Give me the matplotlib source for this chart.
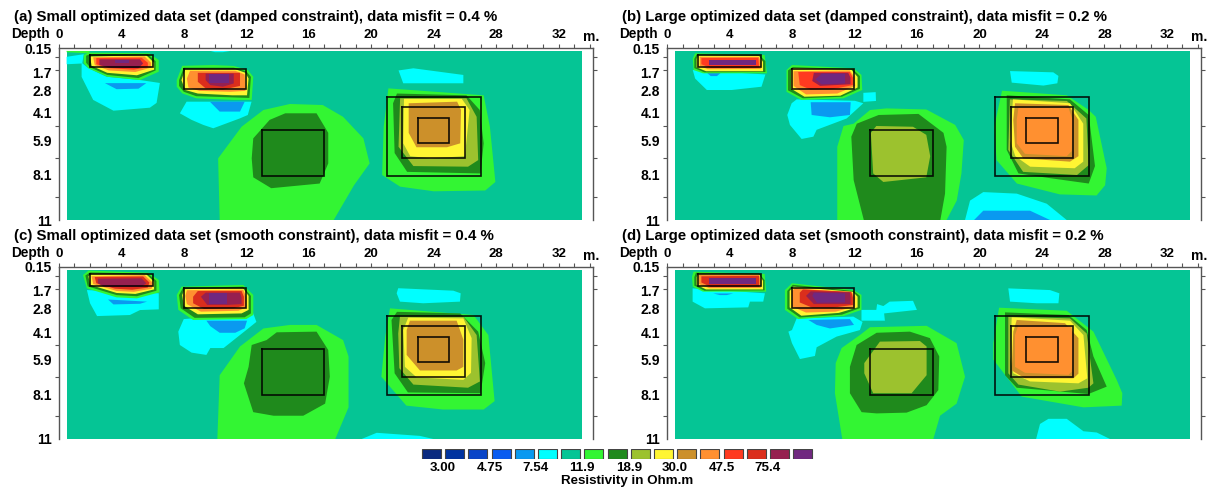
import numpy as np
import matplotlib
matplotlib.use("Agg")
import matplotlib.pyplot as plt

plt.rcParams['font.family'] = ['Liberation Sans', 'DejaVu Sans']

# resistivity classes of the colour scale
COLORS = ['#0A2A80', '#0033A0', '#0A45C8', '#0A5CF0', '#0A99F0', '#00FFFF',
          '#05C595', '#33F533', '#1F8A1C', '#9CC22E', '#FFF533', '#CC902A',
          '#FF9030', '#FF3A20', '#DB2E1C', '#962050', '#702880']
SCALE_LABELS = ['3.00', '4.75', '7.54', '11.9', '18.9', '30.0', '47.5', '75.4']
SKY, CYAN, TEAL, LIME, DARK, OLIVE, YELLOW, TAN, ORANGE, REDOR, RED, MAROON, PURPLE = range(4, 17)

X_LABELS = list(range(0, 33, 4))
DEPTH_LABELS = [0.15, 1.7, 2.8, 4.1, 5.9, 8.1, 11]
DEPTH_PIXELS = [0, 24, 42, 65, 92.5, 127, 172]
LAYER_TICKS = [0.15, 0.75, 1.55, 2.8, 4.1, 4.95, 5.9, 7, 8.1, 9.5, 11]

# true model blocks: x from, x to, depth from, depth to
BLOCKS = [(2, 6, 0.6, 1.4), (8, 12, 1.5, 2.72), (13, 17, 5.2, 8.15),
          (21, 27, 3.2, 8.15), (22, 26, 3.78, 7.0), (23, 25, 4.45, 6.05)]

TITLES = ['(a) Small optimized data set (damped constraint), data misfit = 0.4 %',
          '(b) Large optimized data set (damped constraint), data misfit = 0.2 %',
          '(c) Small optimized data set (smooth constraint), data misfit = 0.4 %',
          '(d) Large optimized data set (smooth constraint), data misfit = 0.2 %']

PANEL_A = [
    (CYAN, [(0.5, .72), (1.6, .55), (1.5, 1.15), (0.5, 1.2)]),
    (CYAN, [(1.46, 1.1), (1.46, 2.0), (2.2, 3.36), (3.5, 3.97), (5.83, 3.8), (6.26, 3.53), (6.47, 2.37), (5.2, 2.19), (3.06, 1.99), (1.9, 1.46)]),
    (SKY, [(2.95, 2.38), (5.6, 2.38), (5.1, 2.72), (3.7, 2.75)]),
    (CYAN, [(7.75, 4.12), (8.18, 3.46), (12.34, 3.46), (12.1, 4.23), (11.6, 4.45), (9.89, 5.1), (9.25, 4.88), (8.5, 4.55)]),
    (SKY, [(9.67, 3.46), (11.9, 3.46), (11.6, 4.02), (10.3, 4.02)]),
    (CYAN, [(9.7, .34), (11, .34), (10.5, .42), (10, .42)]),
    (LIME, [(0.5, .34), (2, .34), (1.9, .5), (0.5, .42)]),
    (LIME, [(1.6, .6), (1.9, .45), (5.8, .49), (6.4, .93), (6.4, 1.68), (5.2, 2.19), (3.1, 1.99), (1.9, 1.46), (1.6, 1.14)]),
    (DARK, [(1.75, .65), (2, .55), (5.7, .56), (6.2, 1), (6.2, 1.6), (5.1, 2.07), (3.1, 1.88), (2, 1.4), (1.75, 1.1)]),
    (YELLOW, [(2, .7), (5.6, .62), (6.1, 1.1), (6.1, 1.55), (5, 1.9), (3.1, 1.75), (2.1, 1.3)]),
    (ORANGE, [(2.2, .75), (5.5, .7), (5.9, 1.1), (5.9, 1.42), (4.9, 1.7), (3.2, 1.6), (2.3, 1.25)]),
    (REDOR, [(2.4, .8), (5.3, .78), (5.7, 1.1), (5.7, 1.38), (4.8, 1.55), (3.2, 1.45), (2.4, 1.2)]),
    (MAROON, [(2.6, .88), (5.2, .88), (5.4, 1.15), (5.1, 1.45), (3.3, 1.42), (2.6, 1.25)]),
    (PURPLE, [(3.6, .95), (4.5, .95), (4.5, 1.15), (3.6, 1.15)]),
    (LIME, [(7.55, 2.19), (7.9, 1.3), (9.9, 1.25), (11.2, 1.31), (12.1, 1.57), (12.45, 1.99), (12.35, 3.36), (11.2, 3.36), (8.8, 3.27), (7.9, 2.99), (7.55, 2.6)]),
    (DARK, [(7.7, 2.2), (8, 1.42), (11.2, 1.42), (12, 1.65), (12.3, 2), (12.2, 3.25), (11.2, 3.22), (8.8, 3.15), (8, 2.9), (7.7, 2.55)]),
    (YELLOW, [(7.85, 2.2), (8.1, 1.52), (11.3, 1.52), (11.95, 1.75), (12.15, 2.1), (12.05, 3.1), (11.1, 3.1), (8.9, 3.0), (8.1, 2.8)]),
    (ORANGE, [(8.2, 2.1), (8.4, 1.62), (11.3, 1.62), (11.9, 1.85), (11.95, 2.85), (11, 2.9), (9, 2.85), (8.3, 2.65)]),
    (RED, [(8.9, 1.75), (11.6, 1.75), (11.6, 2.55), (10.5, 2.78), (9.4, 2.7), (8.9, 2.3)]),
    (MAROON, [(9.4, 1.8), (11.2, 1.8), (11.2, 2.4), (10.5, 2.6), (9.7, 2.5), (9.4, 2.2)]),
    (PURPLE, [(9.6, 1.85), (10.9, 1.85), (10.9, 2.35), (9.6, 2.35)]),
    (LIME, [(10.3, 11), (10.2, 7.04), (11.7, 5), (13.1, 3.93), (14.8, 3.59), (16.9, 3.65), (18.2, 4.35), (19.5, 5.76), (19.9, 7.36), (18.9, 8.76), (17.6, 11)]),
    (DARK, [(12.35, 7.04), (12.45, 5.76), (13.5, 4.55), (14.5, 4.12), (16.5, 4.12), (17.25, 5.4), (17.25, 7.36), (16.7, 8.65), (13.6, 8.95), (12.45, 8.25)]),
    (CYAN, [(21.75, 1.6), (22.7, 1.46), (25.9, 1.88), (25.9, 2.39), (22.05, 2.39)]),
    (LIME, [(21.1, 2.7), (27.2, 3.1), (27.6, 5), (27.95, 8.55), (27.3, 9.1), (24, 9.15), (21.85, 8.85), (20.7, 8.1), (20.8, 5)]),
    (DARK, [(21.65, 3), (26.1, 3.1), (26.95, 3.93), (27.2, 6.08), (27, 8), (22.3, 7.9), (21.5, 6.7), (21.4, 3.55)]),
    (OLIVE, [(21.85, 3.27), (26.1, 3.27), (26.75, 4.35), (26.85, 7.15), (26.2, 7.57), (22.7, 7.53), (21.75, 6.3)]),
    (YELLOW, [(22.1, 3.3), (25.8, 3.3), (26.3, 3.93), (26, 6.9), (23.8, 7.04), (22.5, 6.9), (22.05, 6.08)]),
    (TAN, [(22.4, 3.55), (25.5, 3.46), (25.75, 3.93), (25.7, 6.08), (24.85, 6.33), (22.9, 6.33), (22.4, 5.4)]),
]

PANEL_B = [
    (CYAN, [(1.65, 1.57), (6.3, 1.85), (6.05, 2.6), (4.15, 2.8), (2.55, 2.8), (1.8, 2.1)]),
    (SKY, [(2.5, 1.7), (3.5, 1.7), (3.2, 1.95), (2.8, 1.95)]),
    (LIME, [(1.65, .82), (1.8, .49), (6.25, .6), (6.4, 1.78), (2.3, 1.78), (1.7, 1.57)]),
    (DARK, [(1.75, .85), (1.9, .56), (5.9, .6), (6.3, 1.0), (6.3, 1.7), (2.4, 1.72), (1.75, 1.45)]),
    (YELLOW, [(1.9, .85), (2, .62), (5.9, .66), (6.15, 1.05), (6.15, 1.65), (2.5, 1.65), (1.9, 1.4)]),
    (ORANGE, [(2.1, .85), (2.1, .72), (5.9, .72), (6, 1.1), (6, 1.5), (2.6, 1.52), (2.1, 1.3)]),
    (REDOR, [(2.2, .8), (5.85, .78), (5.9, 1.42), (2.8, 1.44), (2.2, 1.2)]),
    (PURPLE, [(2.7, .9), (5.7, .9), (5.7, 1.25), (2.7, 1.25)]),
    (CYAN, [(8.3, 3.33), (12.03, 3.41), (12.57, 3.55), (11.5, 4.46), (9.58, 5.2), (9.37, 5.65), (8.62, 5.8), (7.87, 4.88), (7.7, 4.23), (7.98, 3.55)]),
    (CYAN, [(12.57, 2.96), (13.36, 2.92), (13.38, 3.42), (12.57, 3.47)]),
    (SKY, [(9.2, 3.49), (11.76, 3.49), (11.71, 4.23), (10.43, 4.38), (9.26, 4.23)]),
    (LIME, [(7.65, 1.57), (8, 1.25), (11.95, 1.46), (12.45, 1.88), (12.5, 2.8), (11.3, 3.27), (8.6, 3.36), (7.65, 2.9)]),
    (DARK, [(7.75, 1.6), (8.05, 1.38), (11.9, 1.52), (12.35, 1.95), (12.35, 2.72), (11.2, 3.18), (8.7, 3.27), (7.75, 2.82)]),
    (YELLOW, [(7.95, 1.6), (8.1, 1.45), (11.8, 1.55), (12.2, 2), (12.2, 2.65), (11.1, 3.12), (8.8, 3.18), (7.95, 2.72)]),
    (ORANGE, [(8.1, 1.65), (11.7, 1.6), (12, 2), (12.05, 2.55), (10.9, 3.0), (8.9, 3.05), (8.1, 2.55)]),
    (REDOR, [(8.4, 1.7), (11.7, 1.7), (11.9, 2.05), (11.9, 2.5), (10.6, 2.75), (9.2, 2.78), (8.5, 2.5)]),
    (MAROON, [(9.4, 1.75), (11.6, 1.75), (11.75, 2.05), (11.75, 2.45), (9.8, 2.55), (9.3, 2.25)]),
    (PURPLE, [(9.9, 1.8), (11.4, 1.8), (11.4, 2.4), (9.9, 2.45), (9.5, 2.15)]),
    (LIME, [(10.9, 11), (10.9, 6.3), (11.3, 4.95), (11.95, 4.8), (13, 3.93), (14.05, 3.84), (16.6, 3.9), (18.45, 4.88), (19, 5.87), (18.85, 8), (18.55, 9.75), (17.9, 11)]),
    (DARK, [(12.6, 11), (11.95, 8.43), (11.8, 5.65), (12.15, 4.8), (13.55, 4.23), (16.1, 4.16), (17.7, 5.4), (17.9, 6.3), (17.8, 9.3), (17.5, 11)]),
    (OLIVE, [(13.4, 4.95), (15.75, 5), (16.6, 5.53), (16.85, 6.9), (16.6, 8.25), (13.85, 8.55), (13.2, 8), (13.05, 5.4)]),
    (CYAN, [(21.96, 1.64), (24.73, 1.72), (25.06, 1.94), (24.99, 2.39), (24.1, 2.53), (22.07, 2.35)]),
    (LIME, [(21.45, 2.84), (25.6, 3.1), (27, 3.93), (27.45, 4.35), (28.15, 7.67), (28.05, 8.76), (27.5, 9.42), (25.15, 9.35), (22.4, 8.65), (21.1, 7.15), (20.95, 5)]),
    (DARK, [(21.75, 3.1), (25.8, 3.33), (27, 4.23), (27.4, 7.53), (27, 8.65), (24.5, 8.3), (22.5, 8), (21.75, 6.5)]),
    (OLIVE, [(21.95, 3.33), (25.6, 3.42), (26.85, 4.46), (27, 7.47), (26.25, 8.1), (22.8, 7.9), (21.85, 6.5)]),
    (YELLOW, [(22.15, 3.33), (25.8, 3.55), (26.65, 4.8), (26.65, 7.25), (26.1, 7.67), (23.25, 7.57), (22.3, 6.9), (21.95, 5.87)]),
    (TAN, [(22.28, 3.55), (25.7, 3.65), (26.34, 4.55), (26.34, 6.9), (25.8, 7.25), (22.81, 7.04), (22.28, 6.3), (22.17, 4.55)]),
    (ORANGE, [(22.5, 3.8), (25.7, 3.8), (25.97, 4.55), (25.91, 6.58), (25.59, 6.9), (22.92, 6.75), (22.39, 6.08), (22.39, 4.55)]),
    (CYAN, [(19.08, 11), (19.4, 9.75), (20.25, 9.2), (22.39, 9.3), (24.31, 9.95), (25.59, 11)]),
    (SKY, [(19.66, 11), (20.25, 10.4), (23.24, 10.4), (24.52, 11)]),
]

PANEL_C = [
    (CYAN, [(1.8, 1.64), (6.4, 1.84), (6.4, 2.82), (5.2, 2.86), (4.55, 3.14), (2.45, 3.2), (2, 2.45)]),
    (SKY, [(3.15, 2.22), (5.65, 2.35), (5.2, 2.48), (3.5, 2.52)]),
    (LIME, [(1.55, .67), (1.9, .38), (5.75, .52), (6.4, .99), (6.45, 1.78), (5, 2.15), (3.7, 2.09), (1.8, 1.53)]),
    (DARK, [(1.7, .7), (2, .5), (5.7, .58), (6.25, 1.05), (6.25, 1.68), (5, 2.02), (3.7, 1.95), (1.85, 1.4)]),
    (YELLOW, [(1.9, .75), (2.1, .58), (5.6, .62), (6.1, 1.1), (6.1, 1.6), (4.9, 1.88), (3.7, 1.82), (2, 1.3)]),
    (ORANGE, [(2.1, .75), (5.5, .68), (6, 1.15), (5.95, 1.55), (4.8, 1.75), (3.7, 1.7), (2.2, 1.25)]),
    (RED, [(2.3, .8), (5.4, .76), (5.8, 1.15), (5.7, 1.48), (4.7, 1.62), (3.6, 1.55), (2.4, 1.2)]),
    (MAROON, [(2.5, .9), (5.3, .88), (5.6, 1.2), (5.3, 1.42), (2.9, 1.42), (2.5, 1.2)]),
    (CYAN, [(8, 3.37), (12.45, 3.05), (12.65, 3.53), (12, 3.99), (10.55, 5.15), (9.7, 5.15), (9.45, 5.6), (8.5, 5.45), (7.75, 4.95), (7.65, 4.08)]),
    (SKY, [(9.45, 3.46), (12.05, 3.46), (11.9, 3.89), (11.3, 4.15), (10.3, 4.15), (9.7, 3.77)]),
    (LIME, [(7.55, 1.94), (7.85, 1.42), (11.8, 1.31), (12.45, 1.94), (12.45, 3.14), (12, 3.37), (8.6, 3.42), (7.65, 2.85)]),
    (DARK, [(7.7, 1.95), (7.95, 1.5), (11.8, 1.42), (12.3, 2), (12.3, 3.05), (11.9, 3.27), (8.7, 3.3), (7.8, 2.75)]),
    (YELLOW, [(7.9, 1.95), (8.05, 1.58), (11.8, 1.52), (12.15, 2), (12.15, 2.85), (11.7, 3.05), (8.9, 3.1), (8, 2.6)]),
    (ORANGE, [(8.1, 2), (8.2, 1.65), (11.8, 1.62), (12, 2.05), (12, 2.7), (11.5, 2.9), (9.1, 2.95), (8.2, 2.5)]),
    (RED, [(8.6, 2.05), (8.9, 1.7), (11.7, 1.7), (11.85, 2.05), (11.85, 2.6), (11.2, 2.75), (9.3, 2.8), (8.6, 2.45)]),
    (MAROON, [(9.1, 2.05), (9.4, 1.8), (11.6, 1.8), (11.7, 2.1), (11.7, 2.5), (10.8, 2.55), (9.5, 2.55)]),
    (PURPLE, [(9.6, 1.85), (10.8, 1.85), (10.8, 2.5), (9.6, 2.5)]),
    (LIME, [(10.15, 11), (10.3, 6.9), (11.6, 5.05), (13.1, 3.9), (14.8, 3.7), (16.5, 3.7), (18.2, 4.63), (18.55, 5.7), (18.55, 8.96), (17.7, 11)]),
    (DARK, [(12.45, 9.27), (11.85, 7.42), (12.15, 6.37), (12.35, 4.95), (13.3, 4.63), (13.95, 4.12), (16.5, 4.08), (17.25, 5.28), (17.35, 7), (17.05, 8.72), (15.65, 9.5), (13.75, 9.5)]),
    (CYAN, [(21.73, 1.52), (25.26, 1.68), (25.73, 1.84), (25.68, 2.35), (23.33, 2.45), (21.84, 2.35), (21.63, 1.84)]),
    (LIME, [(21.2, 2.76), (26.55, 3.14), (27.5, 4.3), (27.9, 8.56), (27.2, 9.1), (24.6, 9.1), (22.25, 8.85), (20.65, 7), (20.9, 4.4)]),
    (DARK, [(21.65, 2.96), (25.7, 3.05), (26.85, 4.08), (27.3, 6.13), (27, 8.05), (22.35, 8), (21.5, 6.78), (21.3, 3.42)]),
    (OLIVE, [(21.84, 3.23), (25.9, 3.23), (26.75, 4.3), (26.96, 7.3), (26.2, 7.7), (22.7, 7.5), (21.8, 6.45), (21.73, 4.2)]),
    (YELLOW, [(22.37, 3.29), (25.9, 3.33), (26.43, 4.5), (26.39, 6.75), (25.9, 7.2), (22.91, 7.04), (22.16, 6.37), (22.05, 3.99)]),
    (TAN, [(22.48, 3.46), (25.47, 3.46), (25.9, 4.6), (25.9, 6.37), (25.47, 6.6), (23.12, 6.6), (22.27, 5.6), (22.27, 3.99)]),
    (CYAN, [(19.39, 11), (20.35, 10.6), (23.12, 10.8), (23.98, 11)]),
]

PANEL_D = [
    (CYAN, [(1.64, 1.53), (6.27, 1.84), (6.16, 2.35), (5.31, 2.35), (5.2, 2.7), (2.43, 2.76), (1.64, 2.35)]),
    (SKY, [(2.96, 1.85), (4.24, 1.85), (3.82, 1.95), (3.39, 1.95)]),
    (LIME, [(1.6, .78), (1.7, .45), (6.25, .6), (6.35, 1.74), (2.3, 1.74), (1.65, 1.42)]),
    (DARK, [(1.75, .8), (1.85, .52), (5.9, .58), (6.25, 1), (6.25, 1.66), (2.4, 1.68), (1.75, 1.35)]),
    (YELLOW, [(1.9, .8), (2, .58), (5.9, .62), (6.15, 1.05), (6.15, 1.6), (2.5, 1.6), (1.9, 1.3)]),
    (ORANGE, [(2.05, .8), (2.05, .66), (5.9, .66), (6, 1.05), (6, 1.5), (2.7, 1.52), (2.05, 1.25)]),
    (RED, [(2.2, .75), (5.9, .72), (5.9, 1.42), (2.8, 1.44), (2.2, 1.15)]),
    (PURPLE, [(2.7, .85), (5.7, .85), (5.7, 1.25), (2.7, 1.25)]),
    (CYAN, [(8, 3.99), (8.3, 3.33), (11.93, 3.23), (12.52, 3.53), (12.35, 3.99), (10.86, 4.4), (9.58, 5.1), (9.47, 5.67), (8.51, 5.87), (8, 4.83), (7.77, 4.08)]),
    (CYAN, [(12.45, 2.85), (13.4, 2.85), (13.45, 2.5), (13.85, 2.62), (14.25, 2.35), (15.75, 2.3), (16, 2.85), (13.9, 3.05), (13.95, 3.46), (12.45, 3.46)]),
    (SKY, [(9.05, 3.42), (11.71, 3.37), (11.97, 3.7), (10.43, 3.9), (9.58, 3.7)]),
    (LIME, [(7.55, 1.64), (8, 1.2), (11.95, 1.64), (12.45, 1.94), (12.45, 2.85), (11.3, 3.2), (8.4, 3.37), (7.55, 2.85)]),
    (DARK, [(7.7, 1.7), (8.05, 1.3), (11.95, 1.7), (12.35, 2), (12.35, 2.75), (11.2, 3.12), (8.5, 3.28), (7.7, 2.78)]),
    (YELLOW, [(7.85, 1.7), (8.1, 1.42), (11.9, 1.75), (12.2, 2.05), (12.2, 2.7), (11, 3.02), (8.6, 3.18), (7.85, 2.7)]),
    (ORANGE, [(8, 1.7), (8.2, 1.52), (11.85, 1.8), (12.05, 2.1), (12, 2.65), (10.8, 2.95), (8.9, 3), (8, 2.65)]),
    (RED, [(8.5, 1.8), (8.7, 1.6), (11.8, 1.75), (11.9, 2.1), (11.9, 2.55), (10.6, 2.72), (9.3, 2.72), (8.5, 2.4)]),
    (MAROON, [(8.9, 2), (9.2, 1.72), (11.7, 1.78), (11.75, 2.1), (11.75, 2.5), (9.4, 2.5)]),
    (PURPLE, [(9.3, 2), (9.4, 1.8), (11.4, 1.85), (11.4, 2.4), (9.6, 2.42)]),
    (LIME, [(11.22, 11), (10.75, 8.05), (10.8, 6.13), (11.18, 5.15), (12.35, 4.3), (13, 3.83), (16.62, 3.75), (18.54, 4.83), (19.08, 7), (18.54, 8.72), (17.48, 9.5), (17.05, 11)]),
    (DARK, [(12.46, 9.27), (11.71, 8.05), (11.71, 6.37), (12.14, 4.95), (13.42, 4.15), (15.55, 4.08), (16.83, 4.5), (17.43, 5.7), (17.37, 7.85), (16.62, 8.82), (15.34, 9.3), (13.42, 9.35)]),
    (OLIVE, [(13.63, 4.73), (16.19, 4.69), (16.62, 5.05), (16.62, 6.9), (15.66, 8.05), (13.2, 8.05), (12.63, 6.78), (12.63, 6.13)]),
    (CYAN, [(21.85, 1.53), (24.52, 1.64), (25.12, 1.84), (25.06, 2.45), (23.67, 2.45), (21.96, 2.35)]),
    (LIME, [(21.26, 2.72), (25.59, 2.9), (27.3, 4.08), (28.79, 7.2), (29.15, 8.05), (29.11, 8.85), (26.66, 8.96), (22.71, 8.27), (20.89, 5.9), (20.89, 4.83)]),
    (DARK, [(21.64, 2.99), (25.7, 3.14), (26.87, 3.99), (27.3, 5.7), (28.15, 7.63), (26.98, 8.1), (22.39, 7.7), (21.64, 6.9)]),
    (OLIVE, [(21.85, 3.23), (25.8, 3.33), (26.87, 4.2), (27.3, 7.42), (26.98, 7.7), (25.16, 7.95), (22.5, 7.5), (21.85, 6.78)]),
    (YELLOW, [(22.07, 3.27), (25.8, 3.46), (26.66, 4.3), (26.91, 7.1), (26.34, 7.42), (23.24, 7.3), (22.17, 6.78), (21.96, 5.7)]),
    (TAN, [(22.39, 3.42), (25.48, 3.6), (26.34, 4.5), (26.34, 6.8), (26.02, 7.1), (22.92, 7.1), (22.07, 6.6), (22.17, 4.08)]),
    (ORANGE, [(22.5, 3.7), (25.9, 3.78), (26.02, 4.6), (25.91, 6.68), (25.7, 6.88), (22.92, 6.75), (22.28, 6.37), (22.28, 4.3)]),
    (CYAN, [(23.63, 11), (23.88, 10.03), (24.42, 9.7), (25.59, 9.7), (26.66, 10.5), (27.51, 10.58), (28.36, 11)]),
]

PANELS = [PANEL_A, PANEL_B, PANEL_C, PANEL_D]
PANEL_CORNERS = [(58.8, 48), (667, 48), (58.8, 267), (667, 267)]
W, H = 1211, 491
AXIS_COLOR = '#555555'


def depth_forward(d):
    return np.interp(d, DEPTH_LABELS, DEPTH_PIXELS)


def depth_inverse(p):
    return np.interp(p, DEPTH_PIXELS, DEPTH_LABELS)


def draw_panel(fig, corner, title, outlines):
    left, top = corner
    ax = fig.add_axes([left / W, 1 - (top + 172) / H, 34.2 * 15.62 / W, 172 / H])
    ax.set_yscale('function', functions=(depth_forward, depth_inverse))
    ax.set_xlim(0, 34.2)
    ax.set_ylim(11, 0.15)

    ax.fill([0.5, 33.5, 33.5, 0.5], [0.34, 0.34, 11, 11], color=COLORS[TEAL], lw=0)
    for level, points in outlines:
        xs, ds = zip(*points)
        ax.fill(xs, ds, color=COLORS[level], lw=0)
    for x0, x1, d0, d1 in BLOCKS:
        ax.plot([x0, x1, x1, x0, x0], [d0, d0, d1, d1, d0], color='black', lw=1.2, alpha=0.9,
                solid_joinstyle='miter')

    ax.xaxis.tick_top()
    ax.set_xticks(X_LABELS)
    ax.set_xticklabels([str(v) for v in X_LABELS], fontsize=9.5, fontweight='bold')
    ax.set_xticks(range(0, 35), minor=True)
    ax.tick_params(axis='x', which='major', length=3, width=0.8, color=AXIS_COLOR, pad=2)
    ax.tick_params(axis='x', which='minor', length=3, width=0.8, color=AXIS_COLOR)

    # labels and layer ticks do not sit at the same depths
    ax.set_yticks(DEPTH_LABELS)
    ax.set_yticklabels([str(v) for v in DEPTH_LABELS], fontsize=10, fontweight='bold')
    ax.set_yticks(LAYER_TICKS, minor=True)
    ax.yaxis.set_minor_formatter(plt.NullFormatter())
    ax.tick_params(axis='y', which='major', length=0, pad=5)
    ax.tick_params(axis='y', which='minor', length=3, width=0.8, color=AXIS_COLOR)
    ax.tick_params(axis='y', which='minor', right=True, direction='out')

    for name in ['left', 'right', 'top']:
        ax.spines[name].set_color(AXIS_COLOR)
        ax.spines[name].set_linewidth(1)
    ax.spines['bottom'].set_visible(False)

    fig.text((left - 44.5) / W, 1 - (top - 31) / H, title, fontsize=10.8, fontweight='bold', va='center')
    fig.text((left - 47.5) / W, 1 - (top - 14) / H, 'Depth', fontsize=9.8, fontweight='bold', va='center')
    fig.text((left + 524) / W, 1 - (top - 11) / H, 'm.', fontsize=10, fontweight='bold', va='center')


fig = plt.figure(figsize=(W / 100, H / 100), dpi=100)
for corner, title, outlines in zip(PANEL_CORNERS, TITLES, PANELS):
    draw_panel(fig, corner, title, outlines)

# colour scale
cax = fig.add_axes([419.9 / W, 1 - 459 / H, 17 * 23.2 / W, 10 / H])
cax.bar(range(len(COLORS)), [1] * len(COLORS), width=19 / 23.2, color=COLORS, edgecolor='#444444', linewidth=0.8)
cax.set_xlim(-0.5, 16.5)
cax.set_ylim(0, 1)
cax.set_yticks([])
cax.set_xticks(np.arange(len(SCALE_LABELS)) * 2 + 0.5)
cax.set_xticklabels(SCALE_LABELS, fontsize=9.6, fontweight='bold')
cax.tick_params(axis='x', length=0, pad=2)
for spine in cax.spines.values():
    spine.set_visible(False)
fig.text(627 / W, 1 - 481 / H, 'Resistivity in Ohm.m', fontsize=9.6, fontweight='bold', ha='center', va='center')

fig.savefig('out.png', dpi=100)
